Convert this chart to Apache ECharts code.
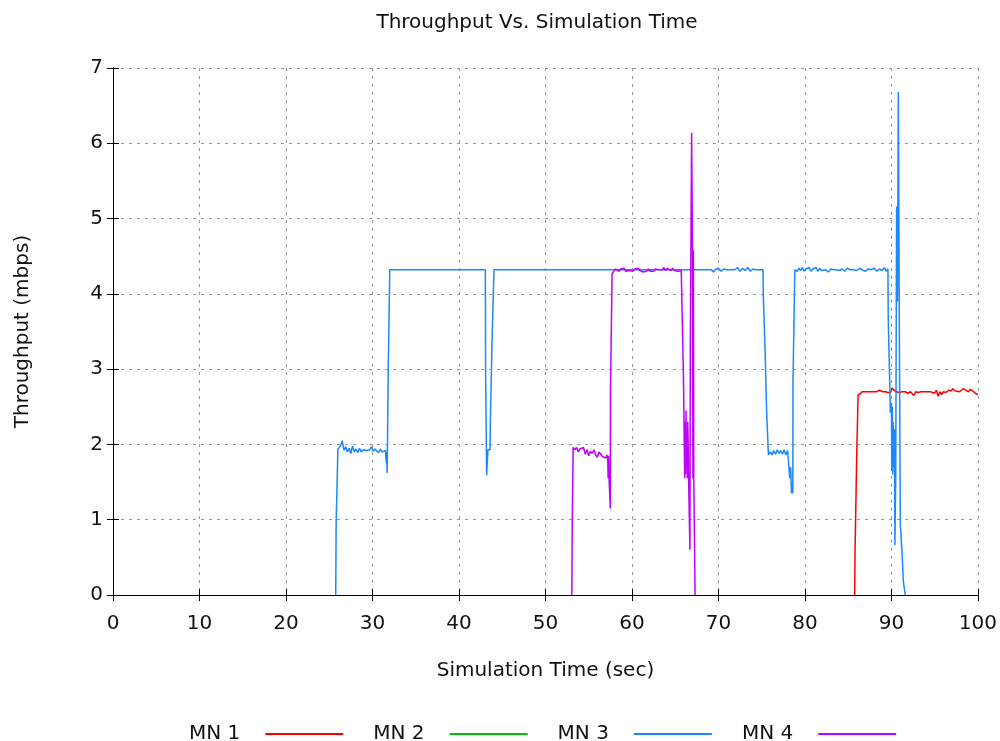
<!DOCTYPE html>
<html>
<head>
<meta charset="utf-8">
<title>Throughput Vs. Simulation Time</title>
<script src="https://cdn.jsdelivr.net/npm/echarts@6/dist/echarts.min.js"></script>
<style>
  html, body { margin: 0; padding: 0; background: #ffffff; }
  #chart { width: 1000px; height: 741px; }
</style>
</head>
<body>
<div id="chart"></div>
<script>
// Throughput samples per mobile node: [simulation time (s), throughput (mbps)]
const seriesNames = ['MN 1', 'MN 2', 'MN 3', 'MN 4'];
const seriesColors = ['#ff0000', '#00c000', '#1a88ff', '#c000ff'];

const mn1 = [
  [85.75, 0], [85.8, 0.62], [85.95, 0.62], [86.0, 1.93], [86.1, 1.93], [86.15, 2.66],
  [86.4, 2.67], [86.6, 2.7], [86.8, 2.69], [87.0, 2.7], [87.2, 2.72], [87.4, 2.7],
  [87.6, 2.69], [87.8, 2.7], [88.0, 2.68], [88.3, 2.7], [88.6, 2.72], [88.8, 2.74],
  [89.0, 2.7], [89.3, 2.7], [89.6, 2.69], [89.9, 2.69], [90.1, 2.75], [90.3, 2.72],
  [90.5, 2.71], [90.8, 2.69], [91.0, 2.7], [91.3, 2.7], [91.6, 2.7], [91.9, 2.68],
  [92.2, 2.7], [92.4, 2.69], [92.6, 2.65], [92.8, 2.7], [93.1, 2.69], [93.4, 2.7],
  [93.7, 2.7], [94.0, 2.7], [94.2, 2.68], [94.5, 2.7], [94.7, 2.71], [95.0, 2.68],
  [95.2, 2.72], [95.4, 2.64], [95.6, 2.7], [95.8, 2.66], [96.0, 2.7], [96.3, 2.69],
  [96.6, 2.72], [96.9, 2.71], [97.1, 2.74], [97.4, 2.71], [97.6, 2.73], [97.9, 2.7],
  [98.1, 2.72], [98.3, 2.74], [98.6, 2.72], [98.9, 2.7], [99.1, 2.73], [99.4, 2.71],
  [99.7, 2.68], [100, 2.66]
];

const mn2 = [];

const mn3 = [
  [25.75, 0], [25.8, 0.95], [25.95, 0.95], [26.0, 1.93], [26.2, 1.95], [26.4, 2.0],
  [26.5, 2.05], [26.7, 1.92], [26.9, 1.97], [27.1, 1.9], [27.3, 1.95], [27.5, 1.88],
  [27.7, 1.98], [27.9, 1.9], [28.1, 1.94], [28.3, 1.89], [28.5, 1.95], [28.7, 1.9],
  [28.9, 1.93], [29.1, 1.91], [29.3, 1.92], [29.5, 1.9], [29.7, 1.93], [29.9, 1.97],
  [30.1, 1.91], [30.3, 1.94], [30.5, 1.92], [30.7, 1.89], [30.9, 1.94], [31.1, 1.9],
  [31.3, 1.92], [31.5, 1.92], [31.6, 1.75], [31.65, 1.9], [31.7, 1.62], [31.8, 1.62],
  [31.82, 2.97], [31.95, 2.97], [32.0, 4.32], [43.05, 4.32], [43.08, 2.97], [43.15, 2.97],
  [43.2, 1.59], [43.3, 1.59], [43.35, 1.93], [43.6, 1.93], [43.62, 2.26], [43.8, 2.26],
  [43.82, 3.34], [44.0, 3.34], [44.05, 4.32], [69.2, 4.32], [69.4, 4.29], [69.6, 4.32],
  [70.0, 4.34], [70.3, 4.3], [70.6, 4.33], [71.0, 4.32], [71.9, 4.32], [72.2, 4.35],
  [72.5, 4.3], [72.8, 4.34], [73.1, 4.31], [73.4, 4.35], [73.7, 4.3], [74.0, 4.33],
  [74.3, 4.32], [75.15, 4.32], [75.18, 4.01], [75.35, 4.01], [75.38, 3.3], [75.55, 3.3],
  [75.58, 2.41], [75.75, 2.41], [75.78, 1.86], [76.0, 1.9], [76.2, 1.86], [76.4, 1.92],
  [76.6, 1.87], [76.8, 1.93], [77.0, 1.88], [77.2, 1.92], [77.4, 1.87], [77.6, 1.93],
  [77.8, 1.86], [78.0, 1.92], [78.2, 1.9], [78.25, 1.55], [78.35, 1.7], [78.45, 1.35],
  [78.55, 1.5], [78.6, 1.35], [78.62, 2.83], [78.8, 2.83], [78.83, 4.32], [79.1, 4.3],
  [79.3, 4.34], [79.5, 4.31], [79.7, 4.35], [79.9, 4.3], [80.1, 4.33], [80.3, 4.31],
  [80.5, 4.35], [80.7, 4.3], [80.9, 4.33], [81.1, 4.32], [81.3, 4.35], [81.5, 4.3],
  [81.7, 4.34], [81.9, 4.31], [82.1, 4.33], [82.4, 4.32], [82.7, 4.29], [83.0, 4.33],
  [83.3, 4.32], [83.6, 4.32], [84.0, 4.31], [84.3, 4.33], [84.6, 4.3], [84.9, 4.34],
  [85.2, 4.32], [85.6, 4.32], [86.0, 4.31], [86.3, 4.34], [86.6, 4.32], [87.0, 4.3],
  [87.3, 4.33], [87.6, 4.32], [88.0, 4.34], [88.3, 4.3], [88.6, 4.33], [88.9, 4.31],
  [89.2, 4.35], [89.4, 4.3], [89.6, 4.33], [89.63, 3.7], [89.85, 3.7], [89.88, 2.42],
  [90.0, 2.55], [90.05, 1.65], [90.1, 2.5], [90.15, 1.6], [90.2, 2.3], [90.3, 1.7],
  [90.35, 2.2], [90.4, 0.66], [90.5, 1.6], [90.6, 5.16], [90.7, 3.9], [90.8, 6.68],
  [90.9, 3.92], [91.0, 3.92], [91.03, 0.93], [91.2, 0.93], [91.23, 0.56], [91.35, 0.56],
  [91.38, 0.18], [91.55, 0.18], [91.6, 0]
];

const mn4 = [
  [53.05, 0], [53.1, 0.97], [53.15, 0.97], [53.2, 1.96], [53.4, 1.93], [53.6, 1.96],
  [53.8, 1.9], [54.0, 1.94], [54.2, 1.92], [54.4, 1.96], [54.6, 1.87], [54.8, 1.93],
  [55.0, 1.85], [55.2, 1.91], [55.4, 1.88], [55.6, 1.93], [55.8, 1.86], [56.0, 1.83],
  [56.2, 1.9], [56.4, 1.87], [56.6, 1.84], [56.8, 1.85], [57.0, 1.82], [57.1, 1.86],
  [57.2, 1.82], [57.25, 1.55], [57.3, 1.85], [57.35, 1.55], [57.45, 1.55], [57.5, 1.15],
  [57.52, 2.72], [57.65, 2.72], [57.7, 4.27], [57.9, 4.3], [58.1, 4.33], [58.3, 4.34],
  [58.5, 4.3], [58.7, 4.33], [58.9, 4.31], [59.1, 4.34], [59.3, 4.3], [59.5, 4.32],
  [59.7, 4.31], [59.9, 4.33], [60.1, 4.3], [60.3, 4.33], [60.5, 4.32], [60.7, 4.34],
  [60.9, 4.31], [61.1, 4.32], [61.3, 4.29], [61.5, 4.31], [61.7, 4.3], [61.9, 4.33],
  [62.1, 4.3], [62.3, 4.31], [62.5, 4.3], [62.7, 4.33], [62.9, 4.31], [63.1, 4.32],
  [63.3, 4.34], [63.5, 4.32], [63.7, 4.35], [63.9, 4.31], [64.1, 4.34], [64.3, 4.36],
  [64.5, 4.31], [64.7, 4.34], [64.9, 4.31], [65.1, 4.33], [65.3, 4.3], [65.5, 4.32],
  [65.7, 4.31], [65.9, 4.32], [65.95, 2.94], [66.05, 2.94], [66.1, 1.55], [66.15, 2.3],
  [66.2, 1.6], [66.25, 2.45], [66.3, 1.7], [66.35, 2.2], [66.4, 1.55], [66.45, 2.3],
  [66.5, 2.0], [66.55, 1.55], [66.65, 1.55], [66.7, 0.6], [66.75, 3.38], [66.85, 3.38],
  [66.9, 6.14], [66.95, 6.14], [67.0, 4.58], [67.05, 1.55], [67.1, 4.58], [67.15, 1.55],
  [67.2, 1.55], [67.3, 0]
];

const seriesData = [mn1, mn2, mn3, mn4];

const xMin = 0, xMax = 100, xStep = 10;
const yMin = 0, yMax = 7, yStep = 1;

const FONT = 'DejaVu Sans';
const gridDash = { color: '#9a9a9a', width: 1, type: [3, 5] };

const chart = echarts.init(document.getElementById('chart'), null, { renderer: 'canvas' });

// gnuplot-style frame: mirrored axes on top and right carry inward ticks only
const mirrorX = {
  type: 'value', position: 'top', min: xMin, max: xMax, interval: xStep,
  axisLine: { show: true, lineStyle: { color: '#000', width: 1 } },
  axisTick: { show: true, inside: true, length: 6, lineStyle: { color: '#000' } },
  axisLabel: { show: false }, splitLine: { show: false }
};
const mirrorY = {
  type: 'value', position: 'right', min: yMin, max: yMax, interval: yStep,
  axisLine: { show: true, lineStyle: { color: '#000', width: 1 } },
  axisTick: { show: true, inside: true, length: 6, lineStyle: { color: '#000' } },
  axisLabel: { show: false }, splitLine: { show: false }
};

const option = {
  backgroundColor: '#ffffff',
  animation: false,
  title: {
    text: 'Throughput Vs. Simulation Time',
    left: 532, top: 8, textAlign: 'center',
    textStyle: { fontFamily: FONT, fontSize: 20, fontWeight: 'normal', color: '#111' }
  },
  legend: {
    data: seriesNames,
    left: 184, top: 719,
    align: 'right',
    icon: 'rect',
    itemWidth: 78, itemHeight: 2, itemGap: 30,
    textStyle: { fontFamily: FONT, fontSize: 20, color: '#111', padding: [0, 20, 0, 0] }
  },
  grid: { left: 113, right: 22, top: 68, bottom: 146, containLabel: false },
  xAxis: [{
    type: 'value', position: 'bottom', min: xMin, max: xMax, interval: xStep,
    name: 'Simulation Time (sec)', nameLocation: 'middle', nameGap: 66,
    nameTextStyle: { fontFamily: FONT, fontSize: 20, color: '#111' },
    axisLine: { show: true, onZero: false, lineStyle: { color: '#000', width: 1 } },
    axisTick: { show: true, inside: true, length: 6, lineStyle: { color: '#000' } },
    axisLabel: { margin: 19, fontFamily: FONT, fontSize: 20, color: '#111' },
    splitLine: { show: true, lineStyle: gridDash }
  }, mirrorX],
  yAxis: [{
    type: 'value', position: 'left', min: yMin, max: yMax, interval: yStep,
    name: 'Throughput (mbps)', nameLocation: 'middle', nameGap: 80,
    nameTextStyle: { fontFamily: FONT, fontSize: 20, color: '#111' },
    axisLine: { show: true, onZero: false, lineStyle: { color: '#000', width: 1 } },
    axisTick: { show: true, inside: true, length: 6, lineStyle: { color: '#000' } },
    axisLabel: { margin: 10, fontFamily: FONT, fontSize: 20, color: '#111' },
    splitLine: { show: true, lineStyle: gridDash }
  }, mirrorY],
  series: seriesNames.map((name, i) => ({
    name: name,
    type: 'line',
    xAxisIndex: 0, yAxisIndex: 0,
    data: seriesData[i],
    showSymbol: false,
    symbol: 'none',
    lineStyle: { color: seriesColors[i], width: 1.5 },
    itemStyle: { color: seriesColors[i] },
    emphasis: { disabled: true }
  }))
};

chart.setOption(option);
</script>
</body>
</html>
